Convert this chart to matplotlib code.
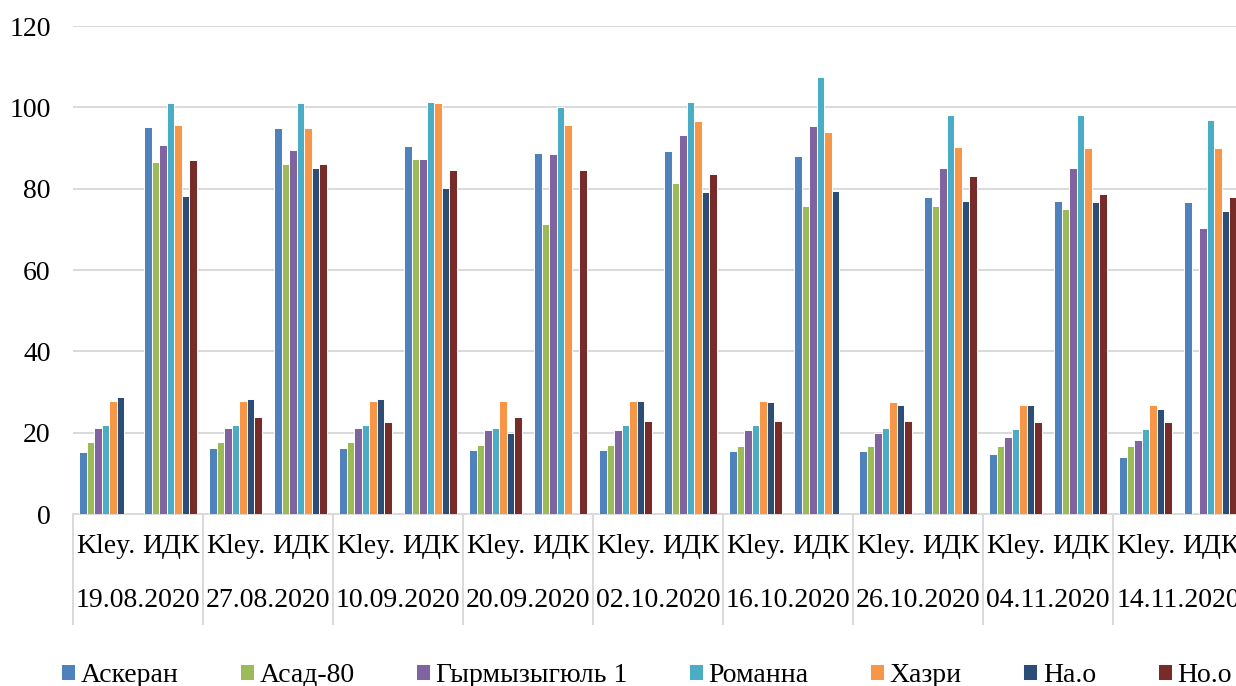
import numpy as np
import matplotlib.pyplot as plt

dates = ['19.08.2020', '27.08.2020', '10.09.2020', '20.09.2020', '02.10.2020',
         '16.10.2020', '26.10.2020', '04.11.2020', '14.11.2020']
subcats = ['Kley.', 'ИДК']

series_names = ['Аскеран', 'Асад-80', 'Гырмызыгюль 1', 'Романна', 'Хазри', 'На.о', 'Но.о']
colors = ['#4F81BD', '#9BBB59', '#8064A2', '#4BACC6', '#F79646', '#2C4D75', '#772C2A']

nan = np.nan
# values per series, ordered date by date: (Kley., ИДК)
askeran = [15.2, 95.2, 16.2, 94.9, 16.2, 90.5, 15.8, 88.7, 15.7, 89.3,
           15.4, 88.0, 15.4, 78.0, 14.8, 77.0, 13.9, 76.6]
asad80 = [17.8, 86.6, 17.8, 86.1, 17.8, 87.2, 17.0, 71.4, 17.0, 81.4,
          16.8, 75.7, 16.8, 75.8, 16.8, 74.9, 16.8, nan]
gyrmyzy = [21.1, 90.7, 21.1, 89.5, 21.1, 87.3, 20.7, 88.5, 20.7, 93.1,
           20.7, 95.5, 19.9, 85.2, 18.9, 85.0, 18.2, 70.3]
romanna = [21.8, 101.1, 21.8, 101.1, 21.8, 101.2, 21.1, 100.0, 21.8, 101.2,
           21.8, 107.5, 21.1, 98.2, 20.8, 98.0, 20.9, 97.0]
khazri = [27.8, 95.6, 27.8, 94.9, 27.8, 101.1, 27.8, 95.6, 27.8, 96.6,
          27.8, 93.9, 27.5, 90.2, 26.8, 90.0, 26.8, 90.0]
nao = [28.7, 78.2, 28.2, 85.2, 28.2, 80.1, 19.9, nan, 27.8, 79.3,
       27.5, 79.4, 26.8, 77.0, 26.8, 76.6, 25.9, 74.5]
noo = [nan, 87.0, 23.8, 86.1, 22.6, 84.6, 23.8, 84.5, 22.9, 83.6,
       22.9, nan, 22.9, 83.0, 22.6, 78.8, 22.6, 78.0]

series = [askeran, asad80, gyrmyzy, romanna, khazri, nao, noo]

plt.rcParams['font.family'] = ['Liberation Serif', 'DejaVu Serif']
plt.rcParams['font.size'] = 20

fig = plt.figure(figsize=(12.36, 6.86), dpi=100)
ax = fig.add_axes([73 / 1236, 1 - 514 / 686, 1170 / 1236, 488 / 686])

grid_c = '#d9d9d9'
x = np.arange(len(dates) * len(subcats))
bw = 0.116
for k, (vals, name, c) in enumerate(zip(series, series_names, colors)):
    ax.bar(x + (k - 3) * bw, vals, width=bw, color=c, edgecolor='white',
           linewidth=0.7, label=name, zorder=3)

ax.set_xlim(-0.5, len(x) - 0.5)
ax.set_ylim(0, 120)
ax.set_yticks(np.arange(0, 121, 20))
ax.yaxis.grid(True, color=grid_c, linewidth=1.4, zorder=0)
ax.tick_params(axis='y', length=0, pad=16)

for s in ['top', 'right', 'left']:
    ax.spines[s].set_visible(False)
ax.spines['bottom'].set_color(grid_c)
ax.spines['bottom'].set_linewidth(1.4)

# inner level labels
ax.set_xticks(x, subcats * len(dates))
ax.tick_params(axis='x', which='major', length=0, pad=14.5)
# group separators
ax.set_xticks(np.arange(-0.5, len(x), 2), minor=True)
ax.tick_params(axis='x', which='minor', length=80, width=1.4, color=grid_c)

# outer level: dates
sec = ax.secondary_xaxis('bottom')
sec.set_xticks(np.arange(len(dates)) * 2 + 0.5, dates)
sec.tick_params(length=0, pad=53)
sec.spines['bottom'].set_visible(False)

fig.legend(loc='center', bbox_to_anchor=(0.523, 1 - 675 / 686), ncol=7,
           frameon=False, handlelength=0.5, handleheight=0.5,
           handletextpad=0.2, columnspacing=2.22, borderpad=0)

fig.savefig('out.png', dpi=100)
